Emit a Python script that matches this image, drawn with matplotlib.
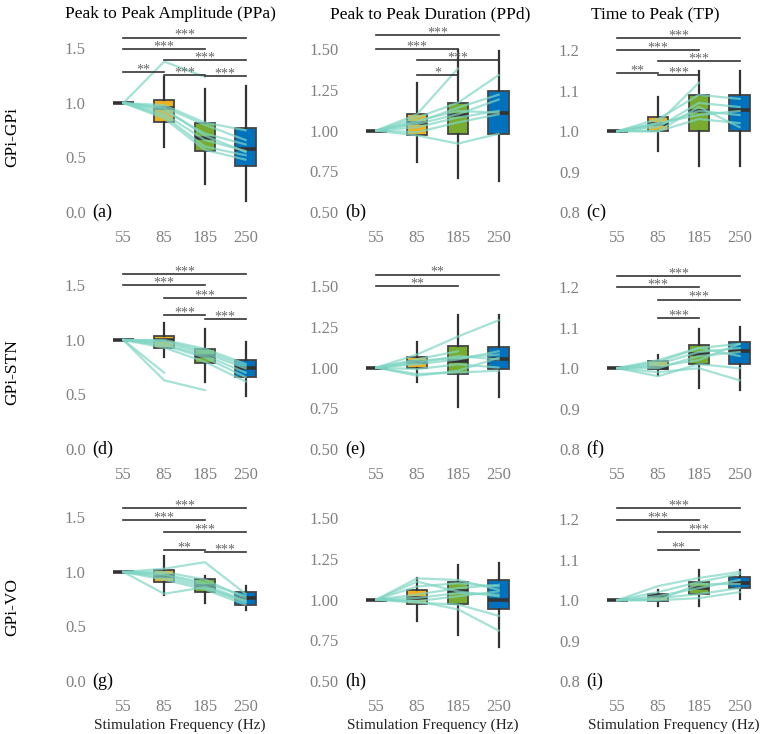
import numpy as np
import matplotlib
matplotlib.use("Agg")
import matplotlib.pyplot as plt

plt.rcParams["font.family"] = ["Liberation Serif", "DejaVu Serif"]

# ─── DATA ─────────────────────────────────────────────────────
freqs = ["55", "85", "185", "250"]
col_titles = ["Peak to Peak Amplitude (PPa)", "Peak to Peak Duration (PPd)", "Time to Peak (TP)"]
row_titles = ["GPi-GPi", "GPi-STN", "GPi-VO"]
panel_tags = ["(a)", "(b)", "(c)", "(d)", "(e)", "(f)", "(g)", "(h)", "(i)"]

box_colors = ["#333333", "#EDB120", "#77AC30", "#0072BD"]

# box stats per frequency: whislo, q1, med, q3, whishi
box_a = [[1, 1, 1, 1, 1], [0.60, 0.83, 0.95, 1.03, 1.235], [0.26, 0.56, 0.675, 0.82, 1.125], [0.10, 0.42, 0.58, 0.77, 1.155]]
box_b = [[1, 1, 1, 1, 1], [0.805, 0.97, 1.047, 1.104, 1.29], [0.71, 0.98, 1.098, 1.166, 1.497], [0.69, 0.976, 1.108, 1.24, 1.49]]
box_c = [[1, 1, 1, 1, 1], [0.952, 1.0, 1.017, 1.035, 1.085], [0.913, 1.0, 1.051, 1.089, 1.149], [0.913, 1.0, 1.053, 1.089, 1.149]]
box_d = [[1, 1, 1, 1, 1], [0.84, 0.93, 1.0, 1.036, 1.16], [0.61, 0.785, 0.85, 0.92, 1.10], [0.485, 0.66, 0.74, 0.815, 0.98]]
box_e = [[1, 1, 1, 1, 1], [0.914, 1.0, 1.035, 1.066, 1.154], [0.76, 0.963, 1.04, 1.13, 1.32], [0.82, 0.99, 1.055, 1.128, 1.32]]
box_f = [[1, 1, 1, 1, 1], [0.982, 0.998, 1.0, 1.017, 1.033], [0.951, 1.01, 1.035, 1.057, 1.098], [0.945, 1.01, 1.042, 1.064, 1.103]]
box_g = [[1, 1, 1, 1, 1], [0.79, 0.91, 0.965, 1.02, 1.15], [0.72, 0.82, 0.87, 0.935, 0.965], [0.65, 0.70, 0.76, 0.82, 0.87]]
box_h = [[1, 1, 1, 1, 1], [0.87, 0.973, 1.01, 1.057, 1.133], [0.78, 0.975, 1.05, 1.109, 1.21], [0.71, 0.944, 1.0, 1.117, 1.226]]
box_i = [[1, 1, 1, 1, 1], [0.986, 0.998, 1.01, 1.016, 1.025], [0.986, 1.015, 1.031, 1.045, 1.075], [1.002, 1.029, 1.042, 1.057, 1.075]]

# individual subjects (normalised to 55 Hz)
subj_a = [[1, 1.38, 1.24, np.nan], [1, 0.98, 0.82, 0.75], [1, 0.96, 0.80, 0.66], [1, 0.93, 0.72, 0.62],
          [1, 0.90, 0.66, 0.56], [1, 0.88, 0.60, 0.52], [1, 0.86, 0.57, 0.48], [1, 0.95, 0.70, 0.55]]
subj_b = [[1, 1.10, 1.38, np.nan], [1, 1.08, 1.17, 1.34], [1, 1.05, 1.14, 1.22], [1, 1.04, 1.10, 1.19],
          [1, 1.02, 1.08, 1.12], [1, 0.99, 1.05, 1.10], [1, 0.97, 0.92, 0.98], [1, 1.06, 1.12, 1.11]]
subj_c = [[1, 1.02, 1.12, np.nan], [1, 1.03, 1.09, 1.08], [1, 1.01, 1.07, 1.06], [1, 1.015, 1.05, 1.04],
          [1, 1.00, 1.03, 1.02], [1, 1.02, 1.04, 1.05], [1, 1.00, 1.06, 1.01]]
subj_d = [[1, 0.70, np.nan, np.nan], [1, 0.63, 0.54, np.nan], [1, 1.00, 0.92, 0.78], [1, 0.98, 0.88, 0.74],
          [1, 0.96, 0.86, 0.70], [1, 0.95, 0.84, 0.66], [1, 0.93, 0.80, 0.62], [1, 0.99, 0.90, 0.76]]
subj_e = [[1, 1.08, 1.19, 1.29], [1, 1.05, 1.10, np.nan], [1, 1.04, 1.06, 1.08], [1, 1.02, 1.05, 1.10],
          [1, 0.99, 1.02, 1.00], [1, 0.96, 0.97, 0.98], [1, 0.95, 0.98, 1.06], [1, 1.03, 1.07, 1.05]]
subj_f = [[1, 1.02, 1.05, 1.06], [1, 1.01, 1.04, 1.05], [1, 1.00, 1.03, 1.04], [1, 0.99, 1.00, 0.97],
          [1, 0.98, 1.01, 1.00], [1, 1.015, 1.05, 1.03], [1, 1.005, 1.02, 1.06]]
subj_g = [[1, 1.03, 1.09, 0.80], [1, 1.00, 0.93, 0.76], [1, 0.97, 0.88, 0.74], [1, 0.95, 0.86, 0.72],
          [1, 0.93, 0.84, 0.70], [1, 0.80, 0.86, 0.73], [1, 0.98, 0.90, 0.78]]
subj_h = [[1, 1.13, 1.12, 1.06], [1, 1.08, 1.10, 1.08], [1, 1.03, 1.07, 1.09], [1, 1.01, 1.04, 1.03],
          [1, 0.99, 1.02, 1.05], [1, 0.98, 0.97, 0.90], [1, 0.99, 0.94, 0.81], [1, 1.11, 1.05, 1.02]]
subj_i = [[1, 1.035, 1.055, 1.07], [1, 1.02, 1.045, 1.065], [1, 1.01, 1.03, 1.05], [1, 1.00, 1.04, 1.04],
          [1, 1.005, 1.015, 1.03], [1, 1.00, 1.005, 1.02]]

# significance brackets: (from, to, height, stars)
sig_a = [(0, 3, 1.60, "***"), (0, 2, 1.495, "***"), (1, 3, 1.39, "***"), (0, 1, 1.28, "**"),
         (1, 2, 1.26, "***"), (2, 3, 1.245, "***")]
sig_b = [(0, 3, 1.586, "***"), (0, 2, 1.50, "***"), (1, 3, 1.43, "***"), (1, 2, 1.34, "*")]
sig_c = [(0, 3, 1.23, "***"), (0, 2, 1.20, "***"), (1, 3, 1.174, "***"), (0, 1, 1.145, "**"),
         (1, 2, 1.14, "***")]
sig_d = [(0, 3, 1.603, "***"), (0, 2, 1.50, "***"), (1, 3, 1.385, "***"), (1, 2, 1.225, "***"),
         (2, 3, 1.195, "***")]
sig_e = [(0, 3, 1.57, "**"), (0, 2, 1.50, "**")]
sig_f = [(0, 3, 1.229, "***"), (0, 2, 1.20, "***"), (1, 3, 1.17, "***"), (1, 2, 1.125, "***")]
sig_g = [(0, 3, 1.59, "***"), (0, 2, 1.48, "***"), (1, 3, 1.37, "***"), (1, 2, 1.20, "**"),
         (2, 3, 1.18, "***")]
sig_h = []
sig_i = [(0, 3, 1.229, "***"), (0, 2, 1.198, "***"), (1, 3, 1.169, "***"), (1, 2, 1.124, "**")]

col_ticks = [[0.0, 0.5, 1.0, 1.5], [0.50, 0.75, 1.00, 1.25, 1.50], [0.8, 0.9, 1.0, 1.1, 1.2]]
col_fmt = ["{:.1f}", "{:.2f}", "{:.1f}"]
col_ylim = [(-0.092, 1.688), (0.439, 1.629), (0.775, 1.2556)]

boxes = [box_a, box_b, box_c, box_d, box_e, box_f, box_g, box_h, box_i]
subjects = [subj_a, subj_b, subj_c, subj_d, subj_e, subj_f, subj_g, subj_h, subj_i]
sigs = [sig_a, sig_b, sig_c, sig_d, sig_e, sig_f, sig_g, sig_h, sig_i]

# ─── FIGURA ───────────────────────────────────────────────────
W, H = 770, 734
fig = plt.figure(figsize=(W / 100, H / 100), dpi=100)

col_left = [90, 343, 584]
row_top = [28, 265, 497]
ax_w, ax_h = 180, 194

for r in range(3):
    for c in range(3):
        k = r * 3 + c
        ax = fig.add_axes([col_left[c] / W, 1 - (row_top[r] + ax_h) / H, ax_w / W, ax_h / H])
        pos = np.arange(len(freqs))

        stats = [dict(whislo=b[0], q1=b[1], med=b[2], q3=b[3], whishi=b[4], fliers=[])
                 for b in boxes[k]]
        bp = ax.bxp(stats, positions=pos, widths=0.5, patch_artist=True, showcaps=False,
                    showfliers=False,
                    boxprops=dict(edgecolor="#444444", linewidth=1.3),
                    whiskerprops=dict(color="#333333", linewidth=1.6),
                    medianprops=dict(color="#333333", linewidth=2.6))
        for patch, col in zip(bp["boxes"], box_colors):
            patch.set_facecolor(col)
            patch.set_zorder(2)

        for s in subjects[k]:
            ax.plot(pos, s, color="#7FD6C4", alpha=0.7, lw=1.6, zorder=4)

        for i0, i1, y, txt in sigs[k]:
            ax.plot([pos[i0], pos[i1]], [y, y], color="#333333", lw=1.2, zorder=5)
            ax.annotate(txt, ((pos[i0] + pos[i1]) / 2, y), xytext=(0, 1.5),
                        textcoords="offset points", ha="center", va="center",
                        fontsize=10, color="#666666", zorder=6)

        ax.set_xlim(-0.82, 3.6)
        ax.set_ylim(*col_ylim[c])
        ax.set_xticks(pos)
        ax.set_xticklabels(freqs)
        ax.set_yticks(col_ticks[c])
        ax.set_yticklabels([col_fmt[c].format(t) for t in col_ticks[c]])
        ax.tick_params(length=0, labelsize=12, labelcolor="#808080")
        ax.tick_params(axis="x", pad=6)
        ax.tick_params(axis="y", pad=3)
        for sp in ax.spines.values():
            sp.set_visible(False)

        ax.text(0.01, col_ticks[c][0], panel_tags[k], transform=ax.get_yaxis_transform(),
                ha="left", va="center", fontsize=13, color="black")

        if r == 2:
            ax.set_xlabel("Stimulation Frequency (Hz)", fontsize=11, color="#222222", labelpad=2)

title_x = [170, 430, 655]
for c in range(3):
    fig.text(title_x[c] / W, 1 - 14 / H, col_titles[c], ha="center", va="center",
             fontsize=12.5, color="black")

row_y = [137, 372, 607]
for r in range(3):
    fig.text(12 / W, 1 - row_y[r] / H, row_titles[r], ha="center", va="center",
             rotation=90, fontsize=12.5, color="black")

plt.savefig("out.png", dpi=100)
plt.close()
